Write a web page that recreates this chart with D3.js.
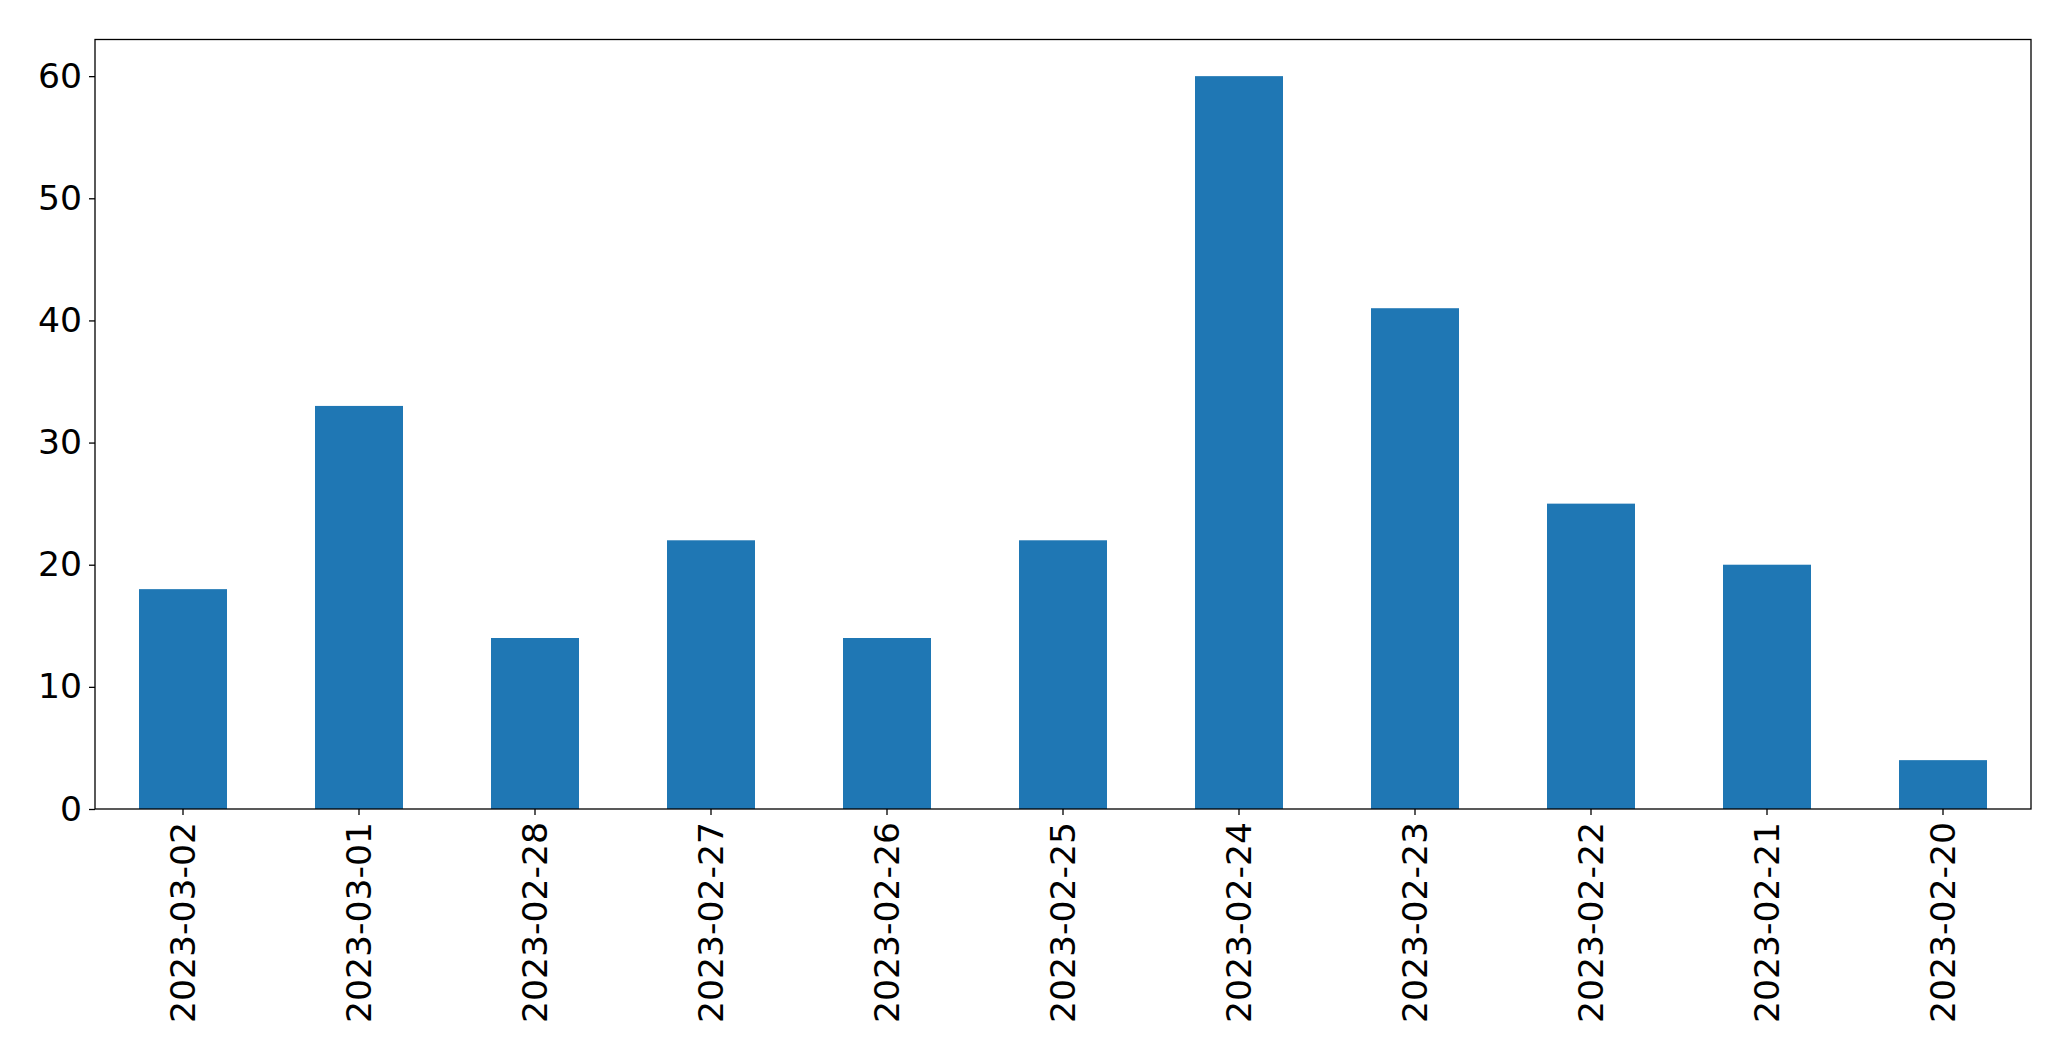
<!DOCTYPE html>
<html>
<head>
<meta charset="utf-8">
<script src="https://cdn.jsdelivr.net/npm/d3@7"></script>
<style>
html,body{margin:0;padding:0;background:#fff;}
svg{display:block;}
</style>
</head>
<body>
<script>
const categories = ["2023-03-02","2023-03-01","2023-02-28","2023-02-27","2023-02-26","2023-02-25","2023-02-24","2023-02-23","2023-02-22","2023-02-21","2023-02-20"];
const values = [18, 33, 14, 22, 14, 22, 60, 41, 25, 20, 4];
const yTicks = [0, 10, 20, 30, 40, 50, 60];

const W = 2071, H = 1061;
const margin = {left: 95, right: 40, top: 39.5, bottom: 252};
const pw = W - margin.left - margin.right;
const ph = H - margin.top - margin.bottom;

const svg = d3.select("body").append("svg").attr("width", W).attr("height", H);
const g = svg.append("g").attr("transform", `translate(${margin.left},${margin.top})`);

const x = d3.scaleBand().domain(categories).range([0, pw]).paddingInner(0.5).paddingOuter(0.25);
const y = d3.scaleLinear().domain([0, 63]).range([ph, 0]);

g.selectAll("rect.bar").data(values).join("rect")
  .attr("class", "bar")
  .attr("x", (d, i) => x(categories[i]))
  .attr("width", x.bandwidth())
  .attr("y", d => y(d))
  .attr("height", d => y(0) - y(d))
  .attr("fill", "#1f77b4");

const font = "'DejaVu Sans', sans-serif";
const fs = 34.6;

const yAxis = g.append("g").call(d3.axisLeft(y).tickValues(yTicks).tickSize(6).tickPadding(7).tickFormat(d3.format("d")));
yAxis.select(".domain").remove();
yAxis.selectAll("text").attr("font-family", font).attr("font-size", fs).attr("fill", "#000");
yAxis.selectAll("line").attr("stroke", "#000").attr("stroke-width", 1.3);

const xAxis = g.append("g").attr("transform", `translate(0,${ph})`).call(d3.axisBottom(x).tickSize(6).tickPadding(7));
xAxis.select(".domain").remove();
xAxis.selectAll("line").attr("stroke", "#000").attr("stroke-width", 1.3);
xAxis.selectAll("text")
  .attr("font-family", font).attr("font-size", fs).attr("fill", "#000")
  .attr("transform", "rotate(-90)")
  .attr("text-anchor", "end")
  .attr("x", -13)
  .attr("y", 0)
  .attr("dy", "0.35em");

g.append("rect").attr("x", 0).attr("y", 0).attr("width", pw).attr("height", ph)
  .attr("fill", "none").attr("stroke", "#000").attr("stroke-width", 1.3);
</script>
</body>
</html>
